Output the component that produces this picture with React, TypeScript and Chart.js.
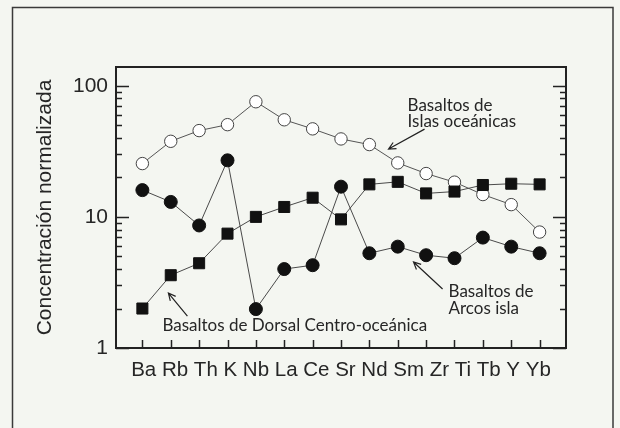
import React, { useEffect, useRef } from 'react';
import { Chart, registerables } from 'chart.js';

Chart.register(...registerables);

const elements = ['Ba', 'Rb', 'Th', 'K', 'Nb', 'La', 'Ce', 'Sr', 'Nd', 'Sm', 'Zr', 'Ti', 'Tb', 'Y', 'Yb'];
const oceanIsland = [25.5, 37.7, 45.5, 50.5, 75.5, 55, 46.9, 39.3, 35.6, 25.8, 21.4, 18.4, 14.8, 12.4, 7.66];
const islandArc = [16.0, 13.0, 8.6, 27.0, 1.98, 4.0, 4.28, 17.0, 5.28, 5.93, 5.1, 4.84, 6.95, 5.93, 5.28];
const midOceanRidge = [2.0, 3.59, 4.43, 7.45, 10.0, 11.9, 14.0, 9.57, 17.7, 18.5, 15.1, 15.6, 17.5, 17.9, 17.7];
const yMajorTicks = [1, 10, 100];
const yMinorMultipliers = [2, 3, 4, 5, 6, 7, 8, 9];

// annotation anchors in data coordinates (x = element index, y = concentration)
const notes = [
  { lines: ['Basaltos de', 'Islas oceánicas'], x: 9.345, y: [70.5, 53.7], tail: [9.945, 46.7], head: [8.675, 32.9] },
  { lines: ['Basaltos de', 'Arcos isla'], x: 10.79, y: [2.696, 2.018], tail: [10.58, 2.817], head: [9.556, 4.524] },
  { lines: ['Basaltos de Dorsal Centro-oceánica'], x: 0.705, y: [1.497], tail: [1.587, 1.753], head: [0.917, 2.626] },
];

const BG = '#f4f6f1';
const INK = '#262626';

const decorPlugin = {
  id: 'decor',
  beforeDraw(chart: any) {
    const { ctx, width, height } = chart;
    ctx.save();
    ctx.fillStyle = BG;
    ctx.fillRect(0, 0, width, height);
    ctx.strokeStyle = '#3a3a3a';
    ctx.lineWidth = 1.5;
    ctx.strokeRect(12.5, 7.5, 600.5, height + 10);
    ctx.restore();
  },
  beforeDatasetsDraw(chart: any) {
    const { ctx, chartArea: a } = chart;
    const xs = chart.scales.x;
    const ys = chart.scales.y;
    ctx.save();
    ctx.strokeStyle = '#222';
    ctx.lineWidth = 2;
    ctx.strokeRect(a.left, a.top, a.right - a.left, a.bottom - a.top);
    ctx.lineWidth = 1.5;
    ys.ticks.forEach((t: any) => {
      const v = t.value;
      const major = yMajorTicks.includes(v);
      const len = major ? 13 : 6;
      const py = Math.round(ys.getPixelForValue(v)) + 0.5;
      ctx.beginPath();
      ctx.moveTo(a.left, py);
      ctx.lineTo(a.left + len, py);
      ctx.moveTo(a.right, py);
      ctx.lineTo(a.right - len, py);
      ctx.stroke();
    });
    xs.ticks.forEach((t: any) => {
      const px = Math.round(xs.getPixelForValue(t.value)) + 0.5;
      ctx.beginPath();
      ctx.moveTo(px, a.bottom);
      ctx.lineTo(px, a.bottom - 8);
      ctx.stroke();
    });
    // category labels, set as one spaced row centred under the category span
    const row = xs.ticks.map((t: any) => elements[t.value]).join(' ');
    const cx = (xs.getPixelForValue(0) + xs.getPixelForValue(elements.length - 1)) / 2;
    ctx.font = '20.5px "Liberation Sans", Arial, sans-serif';
    ctx.fillStyle = INK;
    ctx.textAlign = 'center';
    ctx.textBaseline = 'alphabetic';
    ctx.fillText(row, cx, a.bottom + 28);
    ctx.restore();
  },
  afterDraw(chart: any) {
    const { ctx } = chart;
    const xs = chart.scales.x;
    const ys = chart.scales.y;
    ctx.save();
    ctx.font = '17px Lato';
    ctx.fillStyle = INK;
    ctx.textAlign = 'left';
    ctx.textBaseline = 'middle';
    ctx.strokeStyle = '#222';
    ctx.lineWidth = 1.2;
    notes.forEach((n) => {
      const px = xs.getPixelForValue(n.x);
      n.lines.forEach((line, i) => ctx.fillText(line, px, ys.getPixelForValue(n.y[i])));
      const tx = xs.getPixelForValue(n.tail[0]);
      const ty = ys.getPixelForValue(n.tail[1]);
      const hx = xs.getPixelForValue(n.head[0]);
      const hy = ys.getPixelForValue(n.head[1]);
      const ang = Math.atan2(hy - ty, hx - tx);
      const L = 8;
      ctx.beginPath();
      ctx.moveTo(tx, ty);
      ctx.lineTo(hx, hy);
      ctx.moveTo(hx - L * Math.cos(ang - 0.45), hy - L * Math.sin(ang - 0.45));
      ctx.lineTo(hx, hy);
      ctx.lineTo(hx - L * Math.cos(ang + 0.45), hy - L * Math.sin(ang + 0.45));
      ctx.stroke();
    });
    ctx.restore();
  },
};

export default function App() {
  const ref = useRef<HTMLCanvasElement | null>(null);

  useEffect(() => {
    document.body.style.margin = '0';
    document.body.style.background = BG;
    const canvas = ref.current;
    if (!canvas) return;
    const toPoints = (arr: number[]) => arr.map((v, i) => ({ x: i, y: v }));
    const chart = new Chart(canvas, {
      type: 'line',
      data: {
        datasets: [
          {
            label: 'Basaltos de Dorsal Centro-oceánica',
            data: toPoints(midOceanRidge),
            borderColor: '#4a4a4a',
            borderWidth: 1,
            pointStyle: 'rect',
            pointRadius: 7.8,
            pointBackgroundColor: '#111',
            pointBorderColor: '#111',
            pointBorderWidth: 1,
          },
          {
            label: 'Basaltos de Arcos isla',
            data: toPoints(islandArc),
            borderColor: '#4a4a4a',
            borderWidth: 1,
            pointStyle: 'circle',
            pointRadius: 6.5,
            pointBackgroundColor: '#111',
            pointBorderColor: '#111',
            pointBorderWidth: 1,
          },
          {
            label: 'Basaltos de Islas oceánicas',
            data: toPoints(oceanIsland),
            borderColor: '#555',
            borderWidth: 1,
            pointStyle: 'circle',
            pointRadius: 6.2,
            pointBackgroundColor: '#ffffff',
            pointBorderColor: '#444',
            pointBorderWidth: 1,
          },
        ],
      },
      options: {
        responsive: false,
        animation: false,
        events: [],
        layout: { padding: { left: 13, right: 54, top: 67, bottom: 0 } },
        plugins: { legend: { display: false }, tooltip: { enabled: false } },
        scales: {
          x: {
            type: 'linear',
            min: -0.93,
            max: 14.93,
            grid: { display: false, drawTicks: false },
            border: { display: false },
            afterBuildTicks: (s: any) => {
              s.ticks = elements.map((_, i) => ({ value: i }));
            },
            afterFit: (s: any) => {
              s.height = 80;
            },
            ticks: {
              display: false,
              autoSkip: false,
              maxRotation: 0,
              callback: (v: any) => elements[v] ?? '',
            },
          },
          y: {
            type: 'logarithmic',
            min: 1,
            max: 139,
            grid: { display: false, drawTicks: false },
            border: { display: false },
            afterBuildTicks: (s: any) => {
              const vals: number[] = [];
              yMajorTicks.forEach((m) => {
                vals.push(m);
                if (m < 100) yMinorMultipliers.forEach((k) => vals.push(m * k));
              });
              s.ticks = vals.map((v) => ({ value: v }));
            },
            afterFit: (s: any) => {
              s.width = 103;
            },
            ticks: {
              autoSkip: false,
              padding: 8,
              color: INK,
              font: { family: 'Liberation Sans', size: 21 },
              callback: (v: any) => (yMajorTicks.includes(v) ? String(v) : ''),
            },
            title: {
              display: true,
              text: 'Concentración normalizada',
              color: INK,
              font: { family: 'Liberation Sans', size: 21 },
              padding: { top: 20, bottom: 0 },
            },
          },
        },
      },
      plugins: [decorPlugin],
    } as any);
    return () => chart.destroy();
  }, []);

  return <canvas ref={ref} width={620} height={428} style={{ display: 'block' }} />;
}
